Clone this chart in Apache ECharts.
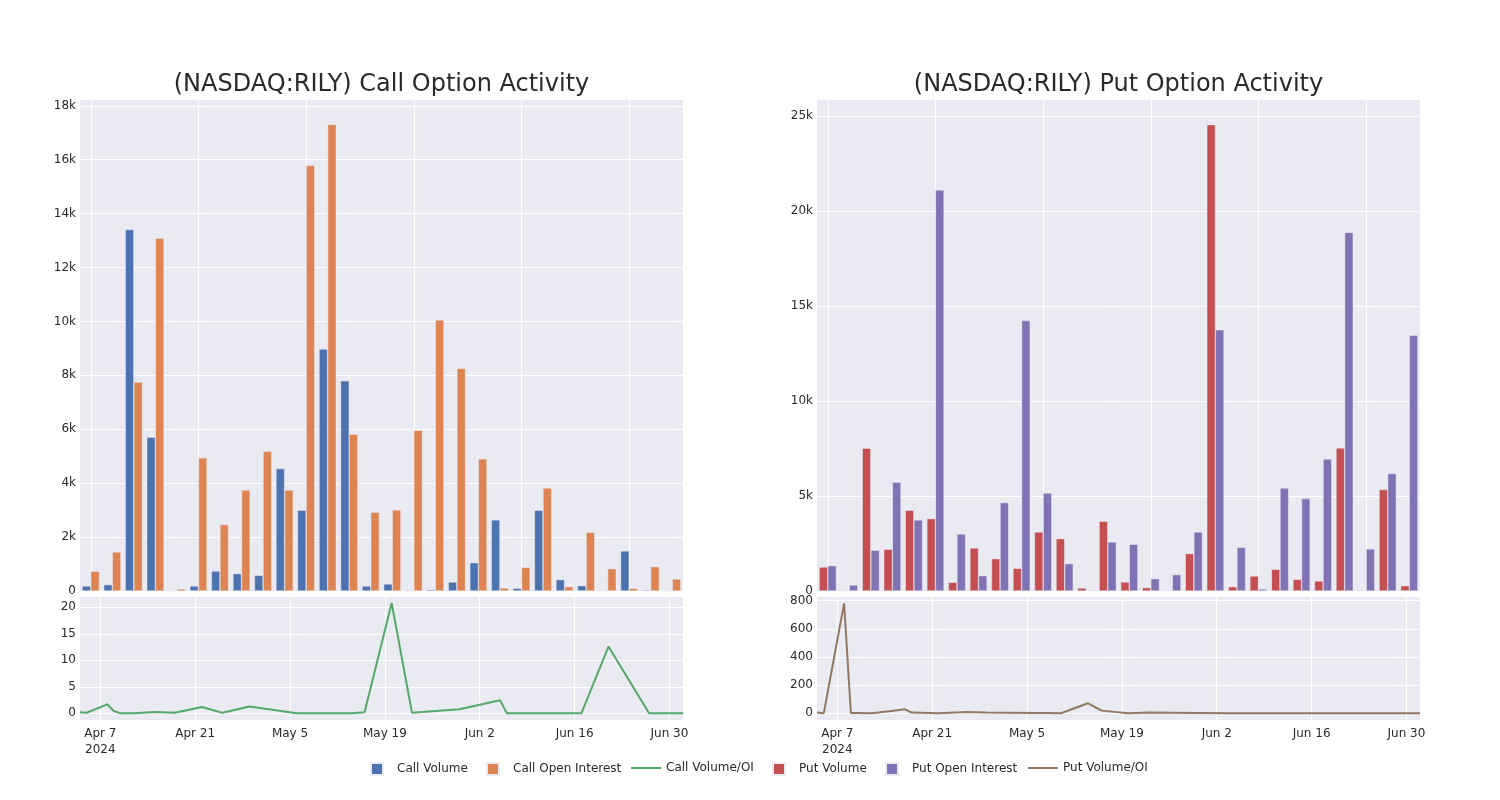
<!DOCTYPE html>
<html><head><meta charset="utf-8">
<script src="https://cdn.jsdelivr.net/npm/echarts@6/dist/echarts.min.js"></script>
<style>html,body{margin:0;padding:0;background:#fff}#c{width:1500px;height:800px}</style>
</head><body><div id="c"></div>
<script>
const dates = ['2024-04-04','2024-04-05','2024-04-08','2024-04-09','2024-04-10','2024-04-12','2024-04-15','2024-04-17','2024-04-18','2024-04-22','2024-04-25','2024-04-26','2024-04-29','2024-05-06','2024-05-07','2024-05-08','2024-05-10','2024-05-14','2024-05-16','2024-05-20','2024-05-23','2024-05-30','2024-06-05','2024-06-06','2024-06-17','2024-06-21','2024-06-27','2024-07-02'];
const callVolume = [186,235,13407,5707,0,186,743,644,582,4543,2996,8975,7800,186,260,0,50,334,1052,2637,99,2996,421,198,0,1486,37,0];
const callOpenInterest = [730,1448,7750,13085,74,4940,2464,3751,5187,3751,15785,17307,5819,2922,3008,5967,10053,8257,4902,111,879,3825,161,2179,829,99,904,446];
const callVolumeOI = [0.2,0.1,1.7,0.45,0,0,0.25,0.15,0.1,1.2,0.1,0.4,1.3,0,0,0,0,0,0.2,20.8,0.1,0.75,2.45,0,0,12.6,0,0];
const putVolume = [1264,0,7514,2195,4249,3810,456,2265,1703,1194,3107,2756,158,3669,474,176,15,1966,24543,228,790,1141,614,527,7532,35,5337,281];
const putOpenInterest = [1334,316,2142,5723,3739,21103,3002,808,4652,14238,5162,1440,35,2581,2458,650,860,3107,13746,2300,105,5425,4863,6952,18873,2212,6180,13466];
const putVolumeOI = [5,0,781,2,2,0,17,28,5,0,7,10,5,3,3,3,0,71,19,0,5,2,0,0,0,0,0,0];
const dateTicks = ['2024-04-07','2024-04-21','2024-05-05','2024-05-19','2024-06-02','2024-06-16','2024-06-30'];
const callBarTicks = [0,2000,4000,6000,8000,10000,12000,14000,16000,18000];
const putBarTicks = [0,5000,10000,15000,20000,25000];
const callRatioTicks = [0,5,10,15,20];
const putRatioTicks = [0,200,400,600,800];

const MONTHS = ['Jan','Feb','Mar','Apr','May','Jun','Jul','Aug','Sep','Oct','Nov','Dec'];
function ts(s){const p=s.split('-').map(Number);return new Date(p[0],p[1]-1,p[2]).getTime();}
const FONT = 'DejaVu Sans';
const TXT = '#2a2a2a';
const BG = '#EAEAF2';

function kfmt(v){return v===0?'0':(v/1000)+'k';}
function dfmt(v){const d=new Date(v);let s=MONTHS[d.getMonth()]+' '+d.getDate();if(v===ts(dateTicks[0]))s+='\n'+d.getFullYear();return s;}

function catAxis(idx){
  return {type:'category',gridIndex:idx,data:dates,boundaryGap:true,
    axisLabel:{show:false},axisTick:{show:false},axisLine:{show:false},
    splitLine:{show:true,interval:4,alignWithLabel:true,lineStyle:{color:'#fff',width:1}}};
}
function dateAxis(idx){
  const tv = dateTicks.map(ts);
  return {type:'value',gridIndex:idx,min:ts(dates[0]),max:ts(dates[dates.length-1]),scale:true,
    axisLine:{show:false},
    axisTick:{show:false,customValues:tv},
    axisLabel:{customValues:tv,formatter:dfmt,color:TXT,fontSize:12,fontFamily:FONT,margin:6,lineHeight:16,hideOverlap:false},
    splitLine:{show:true,lineStyle:{color:'#fff',width:1}}};
}
function valAxis(idx,min,max,ticks,fmt){
  return {type:'value',gridIndex:idx,min:min,max:max,
    axisLine:{show:false},
    axisTick:{show:false,customValues:ticks},
    axisLabel:{customValues:ticks,formatter:fmt,color:TXT,fontSize:12,fontFamily:FONT,margin:4},
    splitLine:{show:true,lineStyle:{color:'#fff',width:1}}};
}

const barStyle = c => ({color:c,borderColor:BG,borderWidth:0.5});

const sqLegend = (name,left) => ({data:[{name:name,icon:'rect'}],left:left,top:762,itemWidth:12,itemHeight:12,
  textStyle:{color:TXT,fontSize:12,fontFamily:FONT,padding:[0,0,0,9]}});
const lnLegend = (name,left) => ({data:[{name:name,icon:'rect'}],left:left,top:762,itemWidth:30,itemHeight:2,
  textStyle:{color:TXT,fontSize:12,fontFamily:FONT,padding:[0,0,0,0]}});

const chart = echarts.init(document.getElementById('c'),null,{renderer:'canvas'});
chart.setOption({
  animation:false,
  backgroundColor:'#fff',
  textStyle:{fontFamily:FONT},
  title:[
    {text:'(NASDAQ:RILY) Call Option Activity',left:381.5,top:73,textAlign:'center',padding:0,
     textStyle:{fontSize:24,fontWeight:'normal',color:TXT,fontFamily:FONT}},
    {text:'(NASDAQ:RILY) Put Option Activity',left:1118.5,top:73,textAlign:'center',padding:0,
     textStyle:{fontSize:24,fontWeight:'normal',color:TXT,fontFamily:FONT}}
  ],
  grid:[
    {left:80,top:100,width:603,height:491,show:true,backgroundColor:BG,borderWidth:0},
    {left:80,top:597,width:603,height:123,show:true,backgroundColor:BG,borderWidth:0},
    {left:817,top:100,width:603,height:491,show:true,backgroundColor:BG,borderWidth:0},
    {left:817,top:597,width:603,height:123,show:true,backgroundColor:BG,borderWidth:0}
  ],
  xAxis:[catAxis(0),dateAxis(1),catAxis(2),dateAxis(3)],
  yAxis:[
    valAxis(0,0,18214,callBarTicks,kfmt),
    valAxis(1,-1.26,21.94,callRatioTicks,v=>String(v)),
    valAxis(2,0,25840,putBarTicks,kfmt),
    valAxis(3,-47.6,826,putRatioTicks,v=>String(v))
  ],
  legend:[
    sqLegend('Call Volume',370),
    sqLegend('Call Open Interest',486),
    lnLegend('Call Volume/OI',631),
    sqLegend('Put Volume',772),
    sqLegend('Put Open Interest',885),
    lnLegend('Put Volume/OI',1028)
  ].map(l=>Object.assign({padding:0,selectedMode:false},l)),
  series:[
    {name:'Call Volume',type:'bar',xAxisIndex:0,yAxisIndex:0,data:callVolume,barGap:'0%',barCategoryGap:'20%',itemStyle:barStyle('#4C72B0')},
    {name:'Call Open Interest',type:'bar',xAxisIndex:0,yAxisIndex:0,data:callOpenInterest,barGap:'0%',barCategoryGap:'20%',itemStyle:barStyle('#DD8452')},
    {name:'Call Volume/OI',type:'line',xAxisIndex:1,yAxisIndex:1,symbol:'none',
     data:dates.map((d,i)=>[ts(d),callVolumeOI[i]]),lineStyle:{color:'#55A868',width:2},itemStyle:{color:'#55A868'}},
    {name:'Put Volume',type:'bar',xAxisIndex:2,yAxisIndex:2,data:putVolume,barGap:'0%',barCategoryGap:'20%',itemStyle:barStyle('#C44E52')},
    {name:'Put Open Interest',type:'bar',xAxisIndex:2,yAxisIndex:2,data:putOpenInterest,barGap:'0%',barCategoryGap:'20%',itemStyle:barStyle('#8172B3')},
    {name:'Put Volume/OI',type:'line',xAxisIndex:3,yAxisIndex:3,symbol:'none',
     data:dates.map((d,i)=>[ts(d),putVolumeOI[i]]),lineStyle:{color:'#937860',width:2},itemStyle:{color:'#937860'}}
  ]
});
</script></body></html>
